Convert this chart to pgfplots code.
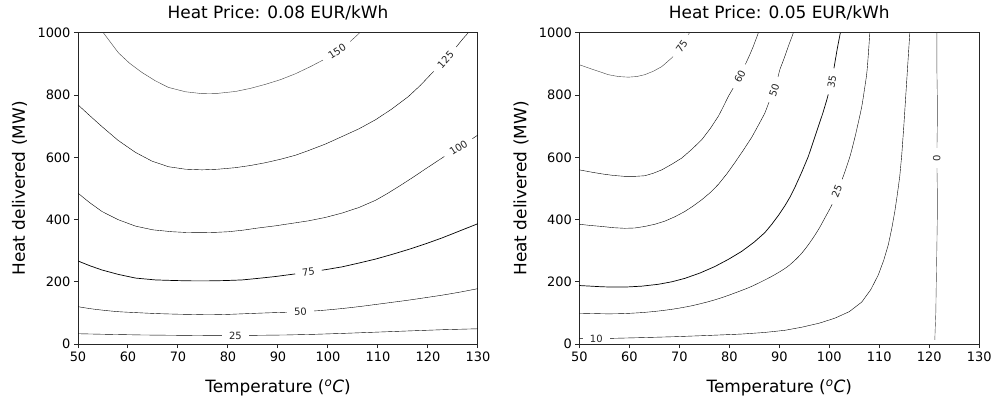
\documentclass[border=0pt]{standalone}
\usepackage{pgfplots}
\pgfplotsset{compat=1.18}
\usepackage{fontspec}
\setmainfont{DejaVu Sans}
\tikzset{
  clab/.style={fill=white, inner xsep=7bp, inner ysep=1bp, font=\fontsize{10}{12}\selectfont, text=black!85},
}
\pgfplotsset{
  cax/.style={
    scale only axis, width=400bp, height=311bp,
    xmin=50, xmax=130, ymin=0, ymax=1000,
    xtick={50,60,...,130}, ytick={0,200,...,1000},
    xtick pos=bottom, ytick pos=left,
    tick align=outside, major tick length=4bp,
    axis line style={line width=1bp, black!85},
    every tick/.style={line width=1bp, black!85},
    /pgf/number format/assume math mode=true,
    /pgf/number format/1000 sep={},
    tick label style={font=\fontsize{13}{15}\selectfont},
    title style={font=\fontsize{17}{20}\selectfont, at={(axis description cs:0.5,1)}, anchor=base, yshift=8.3bp},
    xlabel style={font=\fontsize{17}{20}\selectfont, at={(axis description cs:0.5,0)}, anchor=base, yshift=-48.5bp},
    ylabel style={font=\fontsize{17}{20}\selectfont, at={(axis description cs:-0.1325,0.5)}, rotate=0, anchor=base},
    xlabel={Temperature (\textsuperscript{\itshape o}\textit{C})},
    ylabel={Heat delivered (MW)},
    cycle list={{black!75, solid, mark=none, line width=0.7bp, smooth, tension=0.4}},
    clip=true,
  },
}
\begin{document}
\begin{tikzpicture}
\useasboundingbox (0,0) rectangle (993bp,396bp);
% ---------------- left panel ----------------
\begin{axis}[cax, at={(78bp,52bp)}, anchor=south west, title={Heat Price: 0.08 EUR/kWh},
  after end axis/.code={
    \node[clab, rotate=33.4] at (axis cs:101.8,941) {150};
    \node[clab, rotate=47.9] at (axis cs:123.5,914) {125};
    \node[clab, rotate=32.6] at (axis cs:126.1,631) {100};
    \node[clab, rotate=7.4] at (axis cs:96.1,231) {75};
    \node[clab, rotate=3.1] at (axis cs:94.5,104) {50};
    \node[clab, rotate=0] at (axis cs:81.5,27) {25};
  }]
\addplot coordinates {(55.1,1000) (56.5,970) (58.1,936) (60.3,903) (62.8,873) (65.5,846) (68.1,825) (71.5,811) (74.8,805) (78,806) (81.5,812) (84.5,822) (87.5,835) (90.5,850) (93.5,869) (96.5,892) (99,913) (101.8,941) (104,966) (106.3,1000)};
\addplot coordinates {(50,769) (52.3,735) (54.8,699) (58,655) (61.5,616) (64.8,588) (68.1,570) (71.5,562) (74.8,560) (78,562) (81.5,567) (84.5,574) (87.5,583) (90.5,594) (93.5,607) (96.1,622) (99.5,643) (102.8,667) (106.2,692) (109.5,721) (112.8,756) (116.1,796) (118.5,832) (120.8,871) (123.5,914) (125.2,946) (126.8,978) (128,1000)};
\addplot coordinates {(50,485) (52.3,455) (54.8,426) (58,400) (61.5,379) (65,367) (68.8,361) (71.8,358.5) (74.8,358) (77.5,359) (80.1,361) (83,366) (86,373) (89.5,380) (92.8,388) (96.1,396) (99.5,407) (102.8,421) (106.2,439) (109.5,462) (112,485) (114.5,510) (117,536) (119.5,563) (122.8,598) (126.1,632) (128,651) (130,672)};
\addplot coordinates {(50,267) (52.3,252) (54.8,238) (58,224) (61.5,212) (65.5,206) (69.5,204) (72.8,203) (76.1,203) (79.5,204) (82.8,206) (86,211) (89.5,217) (92.8,224) (96.1,231) (99.5,239) (102.8,248) (106.1,260) (109.5,273) (112.8,288) (116.1,304) (119.5,322) (122.8,341) (126.1,362) (130,387)};
\addplot coordinates {(50,120) (52.3,114) (54.8,109) (58,104) (61.5,101) (65.5,98) (69.5,96) (72.8,95) (76.1,94) (79.5,95) (82.8,97) (86,99) (89.5,101) (91.5,102) (94.5,104) (97,106) (99.5,109) (102.8,114) (106.1,120) (109.5,127) (112.8,134) (116.1,141) (119.5,149) (122.8,157) (126.1,166) (130,178)};
\addplot coordinates {(50,33) (56,31) (62.8,29) (69.5,28) (76.1,27) (81.5,27) (86,28) (91.5,29) (97,31) (102.8,34) (109.5,38) (116.1,42) (123,46) (130,49)};
\end{axis}
% ---------------- right panel ----------------
\begin{axis}[cax, at={(579.3bp,52bp)}, anchor=south west, title={Heat Price: 0.05 EUR/kWh},
  after end axis/.code={
    \node[clab, rotate=54.9] at (axis cs:70.5,957) {75};
    \node[clab, rotate=62.2] at (axis cs:82.1,860) {60};
    \node[clab, rotate=71] at (axis cs:89,817) {50};
    \node[clab, rotate=80] at (axis cs:100.5,844) {35};
    \node[clab, rotate=67.7] at (axis cs:101.5,490) {25};
    \node[clab, rotate=90] at (axis cs:121.5,598) {0};
    \node[clab, rotate=0] at (axis cs:53.4,18) {10};
  }]
\addplot coordinates {(50,898) (52.5,884) (55.8,866) (57.8,860) (59.8,858) (61.5,860) (63.1,866) (64.8,877) (66.5,892) (67.5,906) (68.5,920) (69.5,938) (70.5,957) (71.3,978) (72,1000)};
\addplot coordinates {(50,560) (52.3,553) (54.5,547) (56.8,542) (59.1,539) (61.1,539) (63.1,541) (64.8,549) (66.5,560) (68.5,578) (70.5,598) (72.5,626) (74.5,657) (76.2,693) (77.8,732) (78.8,763) (79.8,796) (81,829) (82.1,860) (82.8,885) (83.5,909) (84.2,934) (84.8,957) (85.8,1000)};
\addplot coordinates {(50,385) (52.3,381) (54.5,378) (56.8,374) (59.1,372) (61.1,373) (63.1,378) (65.1,385) (67.1,395) (69.1,409) (71.1,426) (72.8,444) (74.5,464) (76.2,487) (77.8,513) (79.5,547) (81.1,583) (82.8,623) (84.5,665) (85.8,703) (87.1,742) (88,780) (89,817) (89.6,850) (90.1,882) (91,920) (91.8,957) (92.8,1000)};
\addplot coordinates {(50,188) (52.3,186) (54.5,184) (56.8,183) (59.1,183) (62.5,186) (65.8,192) (68.5,200) (71.1,211) (74.1,228) (77.1,249) (79.8,272) (82.5,298) (85,328) (87.1,358) (88.5,385) (89.8,413) (91.1,444) (92.2,474) (93.1,503) (94.5,553) (95.8,603) (96.8,651) (97.8,699) (98.7,742) (99.5,785) (100,815) (100.5,844) (101.1,903) (101.6,950) (102.2,1000)};
\addplot coordinates {(50,99) (52.8,98) (55.8,97) (59.1,98) (62.5,101) (65.8,106) (69.1,113) (72.5,123) (75.8,136) (78.5,149) (81.1,164) (84,182) (86.5,201) (89,222) (91.5,247) (93.5,275) (95,302) (96.5,335) (97.9,370) (99.1,405) (100.5,447) (101.5,485) (102.3,518) (103.1,553) (104.2,607) (105.1,663) (105.8,712) (106.5,764) (107,815) (107.5,871) (107.8,930) (108.1,1000)};
\addplot coordinates {(50,17) (53.1,18) (56.1,18) (62.5,20.5) (69.1,23.5) (75.8,27.5) (82.5,32) (87,37) (91.1,44) (94.5,54) (98,67) (101.1,83) (104,104) (106.5,135) (108.3,175) (109.8,222) (110.9,270) (111.8,319) (112.5,372) (113.1,426) (113.6,480) (114.1,540) (114.5,610) (114.9,700) (115.5,850) (116.1,1000)};
\addplot coordinates {(121.5,1000) (121.5,900) (121.6,800) (121.6,700) (121.5,598) (121.6,500) (121.6,400) (121.5,300) (121.4,200) (121.3,100) (121.1,13)};
\end{axis}
\end{tikzpicture}
\end{document}
